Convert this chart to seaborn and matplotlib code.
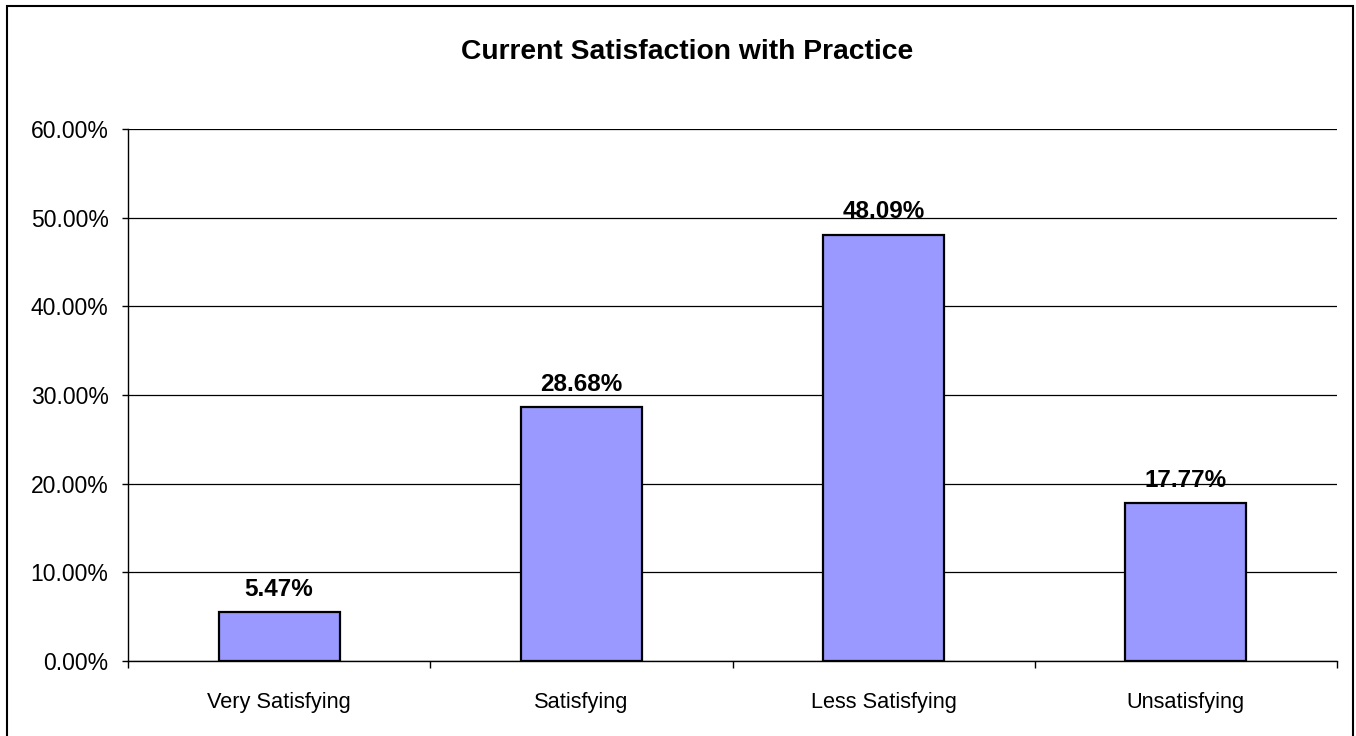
import matplotlib
matplotlib.use("Agg")
import matplotlib.pyplot as plt
import matplotlib.ticker as mticker
from matplotlib.patches import Rectangle
import seaborn as sns

categories = ["Very Satisfying", "Satisfying", "Less Satisfying", "Unsatisfying"]
shares = [0.0547, 0.2868, 0.4809, 0.1777]
y_ticks = [0.0, 0.1, 0.2, 0.3, 0.4, 0.5, 0.6]

sns.set_style("white")
plt.rcParams['font.family'] = ['Liberation Sans', 'DejaVu Sans']
plt.rcParams['text.color'] = 'black'
plt.rcParams['xtick.color'] = 'black'
plt.rcParams['ytick.color'] = 'black'

fig = plt.figure(figsize=(13.56, 7.36), dpi=100)
ax = fig.add_axes([128 / 1356, 1 - 661 / 736, (1337 - 128) / 1356, (661 - 129) / 736])

sns.barplot(x=categories, y=shares, color="#9999FF", saturation=1, width=0.4,
            edgecolor="black", linewidth=1.6, ax=ax, zorder=3)

# value labels on top of bars
ax.bar_label(ax.containers[0], labels=[f"{v:.2%}" for v in shares],
             padding=8, fontsize=17.5, fontweight="bold", color="black")

ax.set_xlim(-0.5, 3.5)
ax.set_ylim(0, 0.6)
ax.set_yticks(y_ticks)
ax.yaxis.set_major_formatter(mticker.FuncFormatter(lambda v, p: f"{v * 100:.2f}%"))
ax.grid(axis="y", color="black", linewidth=0.9, zorder=0)
ax.set_axisbelow(True)

for s in ["top", "right"]:
    ax.spines[s].set_visible(False)
for s in ["left", "bottom"]:
    ax.spines[s].set_color("black")
    ax.spines[s].set_linewidth(1.0)

ax.tick_params(axis="y", left=True, length=4, width=1, color="black", pad=10, labelsize=16.5)
ax.tick_params(axis="x", which="major", bottom=False, length=0, pad=22, labelsize=15.7)
ax.set_xticks([-0.5, 0.5, 1.5, 2.5, 3.5], minor=True)
ax.tick_params(axis="x", which="minor", bottom=True, length=5, width=1, color="black")
ax.set_xlabel("")
ax.set_ylabel("")

fig.text(687 / 1356, 1 - 52 / 736, "Current Satisfaction with Practice", ha="center", va="center",
         fontsize=20.3, fontweight="bold", color="black")

# outer chart border
fig.add_artist(Rectangle((7 / 1356, -0.02), (1353 - 7) / 1356, 1.02 - 6 / 736,
                         transform=fig.transFigure, fill=False, edgecolor="black", linewidth=1.5))

fig.savefig("out.png", dpi=100)
